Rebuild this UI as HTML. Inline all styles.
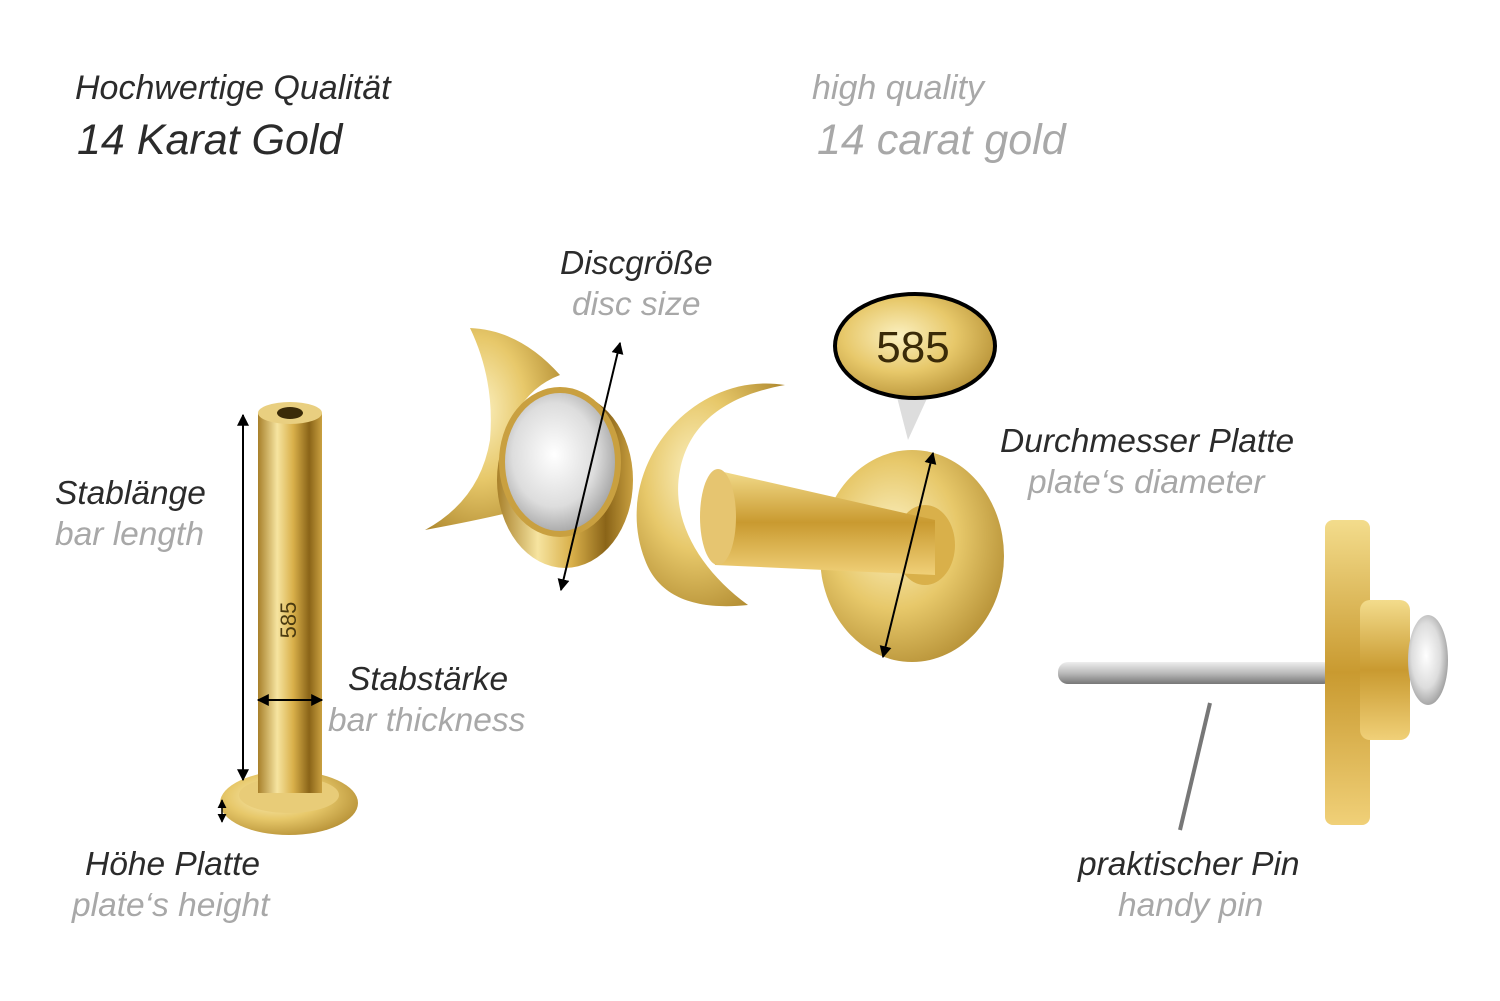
<!DOCTYPE html>
<html><head><meta charset="utf-8">
<style>
html,body{margin:0;padding:0;background:#fff;}
#c{position:relative;width:1500px;height:1001px;overflow:hidden;background:#fff;font-family:"Liberation Sans",sans-serif;font-style:italic;}
.t{position:absolute;white-space:nowrap;line-height:1;}
.d{color:#2b2b2b;font-size:33.5px;}
.g{color:#a8a8a8;font-size:33.5px;}
svg{position:absolute;left:0;top:0;font-style:normal;}
</style></head><body><div id="c">
<svg width="1500" height="1001" viewBox="0 0 1500 1001">
<defs>
<linearGradient id="gold" x1="0" x2="1" y1="0" y2="0">
<stop offset="0" stop-color="#a8802a"/><stop offset="0.3" stop-color="#f6e4a0"/><stop offset="0.55" stop-color="#d9b04a"/><stop offset="0.8" stop-color="#8a6418"/><stop offset="1" stop-color="#c9a040"/></linearGradient>
<radialGradient id="goldr" cx="0.4" cy="0.4" r="0.7">
<stop offset="0" stop-color="#fbf0c0"/><stop offset="0.5" stop-color="#e7c86a"/><stop offset="1" stop-color="#b08a30"/></radialGradient>
<linearGradient id="goldv" x1="0" x2="0" y1="0" y2="1">
<stop offset="0" stop-color="#f3dc8c"/><stop offset="0.5" stop-color="#c99a30"/><stop offset="1" stop-color="#f0d078"/></linearGradient>
<linearGradient id="silver" x1="0" x2="0" y1="0" y2="1">
<stop offset="0" stop-color="#eee"/><stop offset="0.5" stop-color="#bbb"/><stop offset="1" stop-color="#777"/></linearGradient>
<radialGradient id="gem" cx="0.45" cy="0.45" r="0.6">
<stop offset="0" stop-color="#fff"/><stop offset="0.6" stop-color="#ddd"/><stop offset="1" stop-color="#999"/></radialGradient>
<marker id="ah" viewBox="0 0 10 10" refX="9" refY="5" markerWidth="6" markerHeight="6" orient="auto-start-reverse"><path d="M0,0L10,5L0,10z" fill="#000"/></marker>
</defs>
<ellipse cx="289" cy="803" rx="69" ry="32" fill="url(#goldr)"/>
<ellipse cx="289" cy="795" rx="50" ry="18" fill="#e8cc78"/>
<rect x="258" y="413" width="64" height="380" fill="url(#gold)"/>
<ellipse cx="290" cy="413" rx="32" ry="11" fill="#e9cf80"/>
<ellipse cx="290" cy="413" rx="13" ry="6" fill="#3a2a08"/>
<text x="296" y="620" transform="rotate(-90 296 620)" font-family="Liberation Sans" font-size="22" fill="#4a3a10" text-anchor="middle">585</text>
<line x1="243" y1="415" x2="243" y2="780" stroke="#000" stroke-width="2" marker-start="url(#ah)" marker-end="url(#ah)"/>
<line x1="258" y1="700" x2="322" y2="700" stroke="#000" stroke-width="2" marker-start="url(#ah)" marker-end="url(#ah)"/>
<line x1="222" y1="800" x2="222" y2="822" stroke="#000" stroke-width="1.5" marker-start="url(#ah)" marker-end="url(#ah)"/>
<ellipse cx="912" cy="556" rx="92" ry="106" fill="url(#goldr)"/>
<ellipse cx="925" cy="545" rx="30" ry="40" fill="#d9b04a"/>
<path d="M715,470 L935,520 L935,575 L715,565 Z" fill="url(#goldv)"/>
<ellipse cx="718" cy="517" rx="18" ry="48" fill="#e6c570"/>
<path d="M470,328 Q520,330 560,375 Q520,390 505,440 Q500,480 520,510 Q480,520 425,530 Q480,500 490,440 Q495,380 470,328 Z" fill="url(#goldr)"/>
<path d="M785,385 C690,370 610,470 645,560 C660,600 700,610 748,605 C700,570 670,520 680,470 C690,420 730,395 785,385 Z" fill="url(#goldr)"/>
<ellipse cx="565" cy="480" rx="68" ry="88" fill="url(#gold)"/>
<ellipse cx="560" cy="462" rx="58" ry="72" fill="url(#gem)" stroke="#c9a040" stroke-width="6"/>
<line x1="620" y1="343" x2="561" y2="590" stroke="#000" stroke-width="2" marker-start="url(#ah)" marker-end="url(#ah)"/>
<line x1="933" y1="453" x2="883" y2="657" stroke="#000" stroke-width="2" marker-start="url(#ah)" marker-end="url(#ah)"/>
<path d="M890,370 L940,370 L908,440 Z" fill="#ddd"/>
<ellipse cx="915" cy="346" rx="80" ry="52" fill="url(#goldr)" stroke="#000" stroke-width="4"/>
<text x="913" y="362" font-family="Liberation Sans" font-size="44" fill="#3a2a08" text-anchor="middle" font-style="normal">585</text>
<rect x="1058" y="662" width="275" height="22" rx="10" fill="url(#silver)"/>
<rect x="1325" y="520" width="45" height="305" rx="8" fill="url(#goldv)"/>
<rect x="1360" y="600" width="50" height="140" rx="10" fill="url(#goldv)"/>
<ellipse cx="1428" cy="660" rx="20" ry="45" fill="url(#gem)"/>
<line x1="1210" y1="703" x2="1180" y2="830" stroke="#777" stroke-width="4"/>
</svg>
<div class="t d" style="left:75px;top:71px;font-size:34px">Hochwertige Qualität</div>
<div class="t d" style="left:77px;top:119px;font-size:43px">14 Karat Gold</div>
<div class="t g" style="left:812px;top:71px;font-size:34px">high quality</div>
<div class="t g" style="left:817px;top:119px;font-size:43px">14 carat gold</div>
<div class="t d" style="left:560px;top:247px">Discgröße</div>
<div class="t g" style="left:572px;top:288px">disc size</div>
<div class="t d" style="left:55px;top:477px">Stablänge</div>
<div class="t g" style="left:55px;top:518px">bar length</div>
<div class="t d" style="left:348px;top:663px">Stabstärke</div>
<div class="t g" style="left:328px;top:704px">bar thickness</div>
<div class="t d" style="left:85px;top:848px">Höhe Platte</div>
<div class="t g" style="left:72px;top:889px">plate‘s height</div>
<div class="t d" style="left:1000px;top:425px">Durchmesser Platte</div>
<div class="t g" style="left:1028px;top:466px">plate‘s diameter</div>
<div class="t d" style="left:1078px;top:848px">praktischer Pin</div>
<div class="t g" style="left:1118px;top:889px">handy pin</div>
</div></body></html>
